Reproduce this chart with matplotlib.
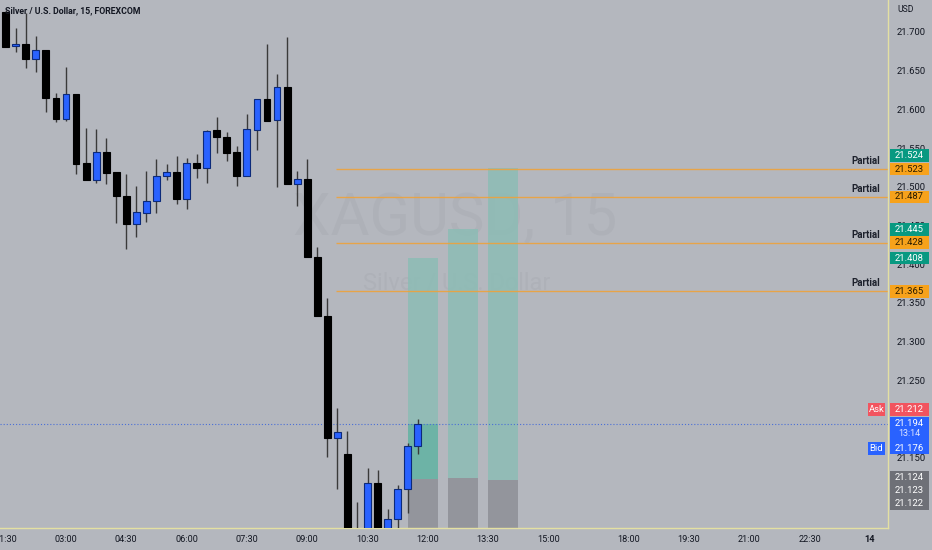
import matplotlib
matplotlib.use('Agg')
import matplotlib.pyplot as plt
from matplotlib.patches import Rectangle
from matplotlib.transforms import blended_transform_factory

# ---------------- data ----------------
opens  = [21.7262, 21.6819, 21.6849, 21.6655, 21.6768, 21.6151, 21.5873, 21.6195, 21.5304, 21.5089,
          21.5446, 21.5188, 21.4882, 21.4520, 21.4666, 21.4813, 21.5140, 21.5188, 21.4847, 21.5304,
          21.5247, 21.5730, 21.5648, 21.5446, 21.5144, 21.5738, 21.6135, 21.5860, 21.6286, 21.5041,
          21.5098, 21.4094, 21.3336, 21.1761, 21.1546, 21.0500, 21.0450, 21.1172, 21.0520, 21.0707,
          21.1098, 21.1657]
highs  = [21.7290, 21.7048, 21.7242, 21.6948, 21.6770, 21.6208, 21.6552, 21.6200, 21.5764, 21.5743,
          21.5635, 21.5190, 21.5166, 21.5015, 21.5205, 21.5356, 21.5291, 21.5402, 21.5377, 21.5428,
          21.5730, 21.5898, 21.5712, 21.5532, 21.5941, 21.6140, 21.6849, 21.6461, 21.6932, 21.5205,
          21.5360, 21.4220, 21.3561, 21.2141, 21.1851, 21.0934, 21.1365, 21.1344, 21.0840, 21.1150,
          21.1696, 21.1996]
lows   = [21.6800, 21.6746, 21.6539, 21.6487, 21.5963, 21.5842, 21.5854, 21.5162, 21.5087, 21.5054,
          21.5033, 21.4537, 21.4194, 21.4356, 21.4550, 21.4658, 21.5085, 21.4775, 21.4718, 21.5114,
          21.5046, 21.5441, 21.5338, 21.5015, 21.5140, 21.5480, 21.5850, 21.4998, 21.5040, 21.4757,
          21.4090, 21.3330, 21.1515, 21.1094, 21.0350, 21.0300, 21.0400, 21.0450, 21.0480, 21.0550,
          21.0784, 21.1546]
closes = [21.6810, 21.6849, 21.6655, 21.6768, 21.6148, 21.5876, 21.6195, 21.5295, 21.5089, 21.5446,
          21.5179, 21.4878, 21.4520, 21.4671, 21.4817, 21.5144, 21.5188, 21.4843, 21.5304, 21.5247,
          21.5725, 21.5640, 21.5437, 21.5144, 21.5743, 21.6135, 21.5854, 21.6286, 21.5041, 21.5098,
          21.4098, 21.3336, 21.1761, 21.1831, 21.0450, 21.0400, 21.1172, 21.0500, 21.0711, 21.1098,
          21.1657, 21.1940]

time_tick_pos = [0, 6, 12, 18, 24, 30, 36, 42, 48, 54, 62, 68, 74, 80, 86]
time_tick_labels = ['01:30', '03:00', '04:30', '06:00', '07:30', '09:00', '10:30', '12:00',
                    '13:30', '15:00', '18:00', '19:30', '21:00', '22:30', '14']
price_ticks = [21.15, 21.25, 21.30, 21.35, 21.40, 21.45, 21.50, 21.55, 21.60, 21.65, 21.70]

# long-position tools
pos_left   = [40, 44, 48]
pos_right  = [43, 47, 51]
pos_entry  = [21.123, 21.124, 21.122]
pos_target = [21.408, 21.445, 21.524]
pos_stop   = [21.000, 21.000, 21.000]

partial_levels = [21.523, 21.487, 21.428, 21.365]
partial_start = 32.9

last_price = 21.194
ask_price = 21.212
bid_price = 21.176
countdown = '13:14'

# ---------------- style ----------------
BG = '#b4b7be'
TXT = '#131722'
BLUE = '#2962ff'
GREEN = '#089981'
ORANGE = '#f7a21b'
RED = '#f2545f'
AXLINE = '#e4e0a2'
FONT = 'Roboto'

W, H = 932, 550
fig = plt.figure(figsize=(W / 100, H / 100), dpi=100, facecolor=BG)
AX_W, AX_H = 888, 528
ax = fig.add_axes([0, 1 - AX_H / H, AX_W / W, AX_H / H], facecolor=BG)
ymin, ymax = 21.0594, 21.7413
xmin, xmax = -0.567, 87.79
ax.set_xlim(xmin, xmax)
ax.set_ylim(ymin, ymax)
u = (ymax - ymin) / AX_H  # price per pixel
trans = blended_transform_factory(ax.transAxes, ax.transData)

for s in ['top', 'left']:
    ax.spines[s].set_visible(False)
for s in ['right', 'bottom']:
    ax.spines[s].set_color(AXLINE)
    ax.spines[s].set_linewidth(1.0)

ax.set_xticks(time_tick_pos)
ax.set_xticklabels(time_tick_labels, fontsize=6.6, color=TXT, family=FONT)
ax.get_xticklabels()[-1].set_fontweight('bold')
ax.yaxis.tick_right()
ax.set_yticks(price_ticks)
ax.set_yticklabels(['%.3f' % p for p in price_ticks], fontsize=6.8, color=TXT, family=FONT)
ax.tick_params(axis='x', length=0, pad=5)
ax.tick_params(axis='y', length=0, pad=6.5)

# watermark
ax.text(455 / AX_W, 21.4585, 'XAGUSD, 15', transform=trans, fontsize=43, family=FONT,
        color='#a3a6ae', alpha=0.35, ha='center', va='center', zorder=0)
ax.text(457 / AX_W, 21.3755, 'Silver / U.S. Dollar', transform=trans, fontsize=17, family=FONT,
        color='#a3a6ae', alpha=0.35, ha='center', va='center', zorder=0)

# title
fig.text(5 / W, 1 - 10.5 / H, 'Silver / U.S. Dollar, 15, FOREXCOM', fontsize=6.3, family=FONT,
         fontweight='bold', color=TXT, ha='left', va='center')
fig.text(897 / W, 1 - 10 / H, 'USD', fontsize=6.2, family=FONT, color=TXT, ha='left', va='center')

# position tools
for l, r, e, t, st in zip(pos_left, pos_right, pos_entry, pos_target, pos_stop):
    ax.add_patch(Rectangle((l, e), r - l, t - e, fc='#8cbcb5', ec='none', alpha=0.85, zorder=1))
    ax.add_patch(Rectangle((l, st), r - l, e - st, fc='#93959c', ec='none', zorder=1))
# realized part of first position
ax.add_patch(Rectangle((pos_left[0], pos_entry[0]), pos_right[0] - pos_left[0],
                       last_price - pos_entry[0], fc='#6db3a6', ec='none', zorder=1.5))

# partial lines
for lv in partial_levels:
    ax.hlines(lv, partial_start, xmax, color='#eda23c', lw=1.0, alpha=0.9, zorder=2)
    ax.annotate('Partial', xy=(880 / AX_W, lv), xycoords=trans, xytext=(0, 5.8),
                textcoords='offset points', ha='right', va='center', fontsize=7,
                family=FONT, fontweight='bold', color='#1e222d', zorder=3)

# current price line
ax.axhline(last_price, color='#4a6fd6', lw=0.8, ls=(0, (1, 1.8)), zorder=2)

# candles
xs = list(range(len(opens)))
cols = [BLUE if c >= o else '#000000' for o, c in zip(opens, closes)]
edges = ['#0c2a7a' if c >= o else '#000000' for o, c in zip(opens, closes)]
ax.vlines(xs, lows, highs, color='#3a3a3a', lw=1.0, zorder=4)
hts = [c - o if abs(c - o) > 0.0008 else 0.0008 for o, c in zip(opens, closes)]
ax.bar(xs, hts, bottom=opens, width=0.68, color=cols, edgecolor=edges, linewidth=0.8, zorder=5)

# price tags on the axis
X0, X1 = 890 / AX_W, 929 / AX_W
XC = (X0 + X1) / 2
TAGH = 12.7 * u

def tag(price, text, fc, tc='white', ypos=None):
    yp = price if ypos is None else ypos
    ax.add_patch(Rectangle((X0, yp - TAGH / 2), X1 - X0, TAGH, transform=trans, fc=fc,
                           ec='none', clip_on=False, zorder=10))
    ax.text(XC, yp, text, transform=trans, ha='center', va='center', fontsize=6.8,
            family=FONT, color=tc, clip_on=False, zorder=11)

for lv in partial_levels:
    tag(lv, '%.3f' % lv, ORANGE, '#2a1c00')
for t in pos_target:
    yp = t
    for lv in partial_levels:
        if abs(yp - lv) < TAGH:
            yp = lv + TAGH * 1.05
    tag(t, '%.3f' % t, GREEN, ypos=yp)
tag(ask_price, '%.3f' % ask_price, RED)

# Ask / Bid side tags
def side_tag(price, text, fc):
    ax.add_patch(Rectangle((868 / AX_W, price - TAGH / 2), 17 / AX_W, TAGH, transform=trans,
                           fc=fc, ec='none', clip_on=False, zorder=10))
    ax.text(876.5 / AX_W, price, text, transform=trans, ha='center', va='center', fontsize=6.8,
            family=FONT, color='white', clip_on=False, zorder=11)

side_tag(ask_price, 'Ask', RED)

# last price / countdown / bid stack
top = last_price + 6.3 * u
bot = last_price - 30 * u
ax.add_patch(Rectangle((X0, bot), X1 - X0, top - bot, transform=trans, fc=BLUE, ec='none',
                       clip_on=False, zorder=10))
ax.text(XC, last_price, '%.3f' % last_price, transform=trans, ha='center', va='center',
        fontsize=6.8, family=FONT, color='white', clip_on=False, zorder=11)
ax.text(XC, last_price - 10 * u, countdown, transform=trans, ha='center', va='center',
        fontsize=6.5, family=FONT, color='#dfe6ff', clip_on=False, zorder=11)
ax.text(XC, last_price - 24.4 * u, '%.3f' % bid_price, transform=trans, ha='center', va='center',
        fontsize=6.8, family=FONT, color='white', clip_on=False, zorder=11)
side_tag(last_price - 24.4 * u, 'Bid', BLUE)

# entry stack
entries_sorted = sorted(pos_entry, reverse=True)
etop = entries_sorted[0] + 7.4 * u
ebot = entries_sorted[0] - (26 + 5.8) * u
ax.add_patch(Rectangle((X0, ebot), X1 - X0, etop - ebot, transform=trans, fc='#6e7077', ec='none',
                       clip_on=False, zorder=10))
for i, e in enumerate(entries_sorted):
    ax.text(XC, entries_sorted[0] - 13 * i * u, '%.3f' % e, transform=trans, ha='center',
            va='center', fontsize=6.8, family=FONT, color='white', clip_on=False, zorder=11)

fig.savefig('out.png', dpi=100, facecolor=BG)
